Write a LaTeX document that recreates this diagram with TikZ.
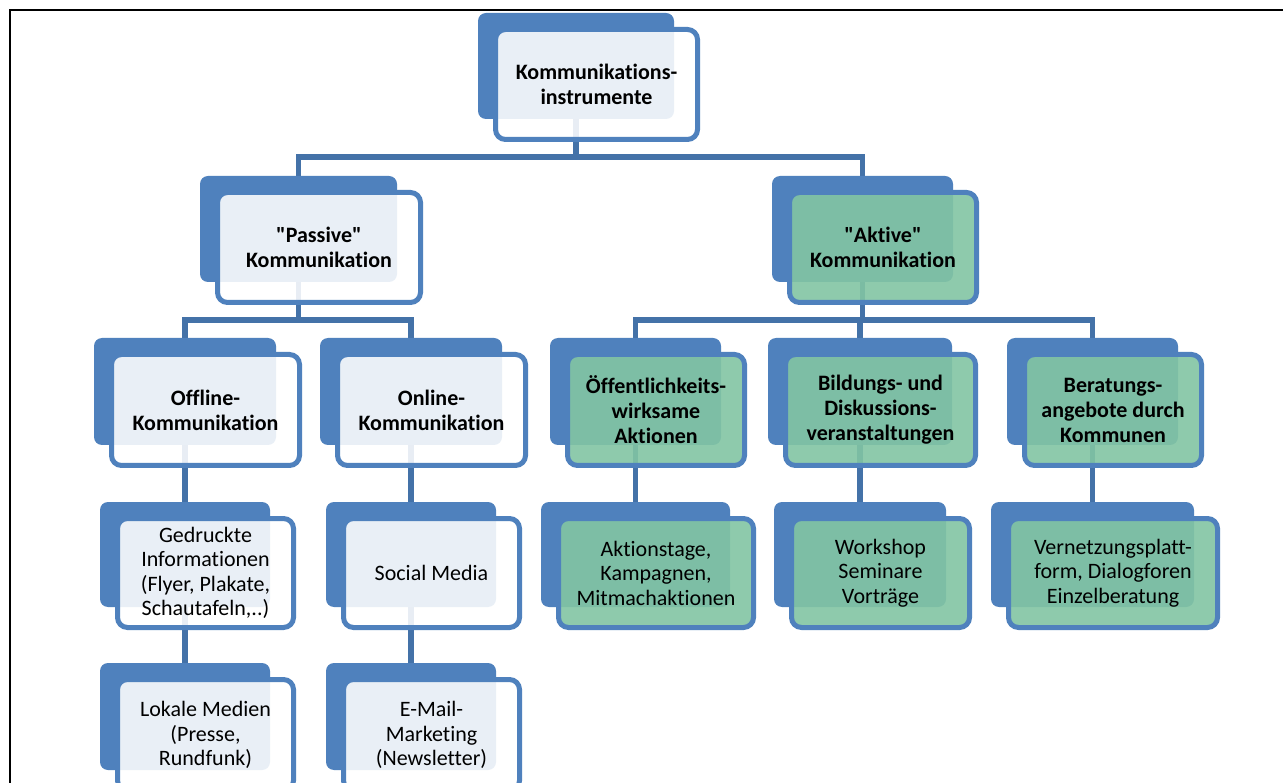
\documentclass[tikz,border=0pt]{standalone}
\usepackage{fontspec}
\newfontfamily\kfont{Carlito}[Ligatures={NoCommon}]
\definecolor{backblue}{RGB}{79,129,189}
\definecolor{lineblue}{RGB}{68,114,168}
\definecolor{boxgreen}{RGB}{130,197,163}
\pgfdeclarelayer{bottom}
\pgfdeclarelayer{background}
\pgfsetlayers{bottom,background,main}
\tikzset{
  backbox/.style={fill=backblue, rounded corners=8pt, inner sep=0pt, outer sep=0pt},
  frontbox/.style={draw=backblue, line width=5pt, rounded corners=10pt, fill=white,
    fill opacity=0.88, text opacity=1, inner sep=0pt, outer sep=0pt, align=center},
  greenbox/.style={frontbox, fill=boxgreen, fill opacity=0.9},
  boldtext/.style={font=\kfont\fontsize{22}{25}\selectfont\bfseries},
  plaintext/.style={font=\kfont\fontsize{22}{24.5}\selectfont},
  conn/.style={draw=lineblue, line width=5.5pt, line join=miter},
  frame/.style={draw=black, line width=2pt}
}
% \kbox{name}{x1}{y1}{x2}{y2}{front style}{text}
\newcommand\kbox[7]{%
  \pgfmathsetmacro\kcx{(#2+#4)/2}\pgfmathsetmacro\kcy{(#3+#5)/2}%
  \pgfmathsetmacro\kbw{#4-#2}\pgfmathsetmacro\kbh{#5-#3}%
  \pgfmathsetmacro\kfx{\kcx+20.5}\pgfmathsetmacro\kfy{\kcy+18.5}%
  \pgfmathsetmacro\kfw{\kbw+6}\pgfmathsetmacro\kfh{\kbh+4}%
  \node[backbox, minimum width=\kbw pt, minimum height=\kbh pt] (#1-b) at (\kcx,\kcy) {};
  \node[#6, minimum width=\kfw pt, minimum height=\kfh pt] (#1) at (\kfx,\kfy) {#7};
}
\begin{document}
\begin{tikzpicture}[x=1pt, y=-1pt]
\useasboundingbox (0,0) rectangle (1283,783);
\clip (0,0) rectangle (1283,783);
\begin{pgfonlayer}{bottom}
  \fill[white] (0,0) rectangle (1283,783);
  \draw[frame] (10,790) -- (10,10.5) -- (1290,10.5);
\end{pgfonlayer}

% level 1
\kbox{top}{478}{13}{674}{119}{frontbox,boldtext}{Kommunikations-\\instrumente}
% level 2
\kbox{passive}{200}{176}{397}{282}{frontbox,boldtext}{"Passive"\\Kommunikation}
\kbox{aktive}{772}{176}{953}{282}{greenbox,boldtext}{"Aktive"\\Kommunikation}
% level 3
\kbox{offline}{94}{338}{276}{445}{frontbox,boldtext}{Offline-\\Kommunikation}
\kbox{online}{320}{338}{502}{445}{frontbox,boldtext}{Online-\\Kommunikation}
\kbox{oeff}{550}{338}{721}{445}{greenbox,boldtext}{Öffentlichkeits-\\wirksame\\Aktionen}
\kbox{bildung}{768}{338}{952}{445}{greenbox,boldtext}{Bildungs- und\\Diskussions-\\veranstaltungen}
\kbox{berat}{1007}{338}{1178}{445}{greenbox,boldtext}{Beratungs-\\angebote durch\\Kommunen}
% level 4
\kbox{gedruckt}{100}{502}{270}{607}{frontbox,plaintext}{Gedruckte\\Informationen\\(Flyer, Plakate,\\Schautafeln,..)}
\kbox{social}{326}{502}{496}{607}{frontbox,plaintext}{Social Media}
\kbox{aktion}{541}{502}{730}{607}{greenbox,plaintext}{Aktionstage,\\Kampagnen,\\Mitmachaktionen}
\kbox{workshop}{774}{502}{946}{607}{greenbox,plaintext}{Workshop\\Seminare\\Vorträge}
\kbox{vernetz}{991}{502}{1194}{607}{greenbox,plaintext}{Vernetzungsplatt-\\form, Dialogforen\\Einzelberatung}
% level 5
\kbox{lokal}{100}{663}{270}{770}{frontbox,plaintext}{Lokale Medien\\(Presse,\\Rundfunk)}
\kbox{email}{326}{663}{496}{770}{frontbox,plaintext}{E-Mail-\\Marketing\\(Newsletter)}

\begin{pgfonlayer}{background}
  \coordinate (j1) at (576,157);
  \coordinate (j2) at (298.5,320);
  \coordinate (j3) at (862.5,320);
  \draw[conn] (top-b.center) -- (j1);
  \draw[conn] (passive-b.center) |- (j1) -| (aktive-b.center);
  \draw[conn] (passive-b.center) -- (j2);
  \draw[conn] (offline-b.center) |- (j2) -| (online-b.center);
  \draw[conn] (aktive-b.center) -- (j3);
  \draw[conn] (oeff-b.center) |- (j3) -| (berat-b.center);
  \draw[conn] (j3 -| bildung-b.center) -- (bildung-b.center);
  \draw[conn] (offline-b.center) -- (gedruckt-b.center);
  \draw[conn] (online-b.center) -- (social-b.center);
  \draw[conn] (oeff-b.center) -- (aktion-b.center);
  \draw[conn] (bildung-b.center) -- (workshop-b.center);
  \draw[conn] (berat-b.center) -- (vernetz-b.center);
  \draw[conn] (gedruckt-b.center) -- (lokal-b.center);
  \draw[conn] (social-b.center) -- (email-b.center);
\end{pgfonlayer}
\end{tikzpicture}
\end{document}
